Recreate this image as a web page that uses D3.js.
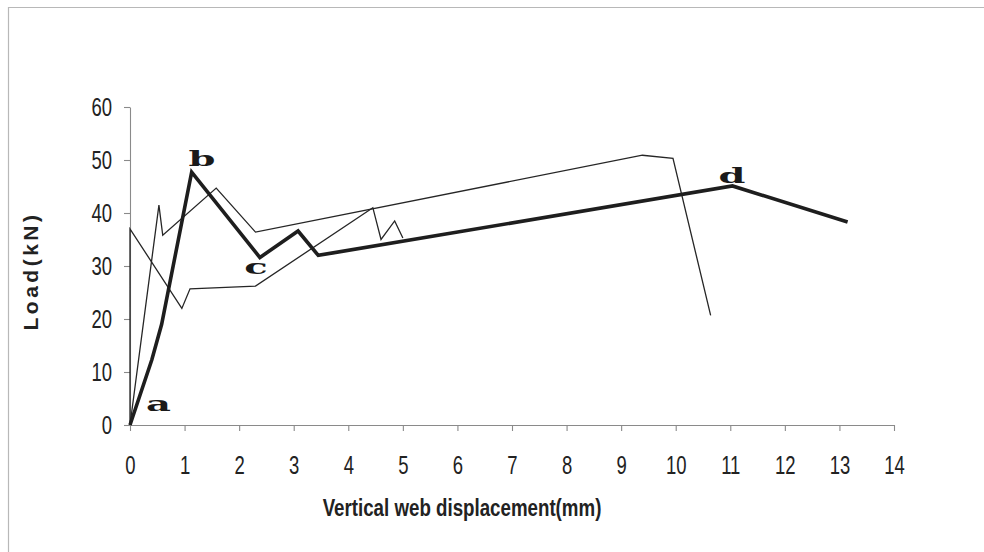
<!DOCTYPE html>
<html>
<head>
<meta charset="utf-8">
<script src="https://cdn.jsdelivr.net/npm/d3@7/dist/d3.min.js"></script>
<style>
  html, body { margin: 0; padding: 0; background: #fff; }
  svg { display: block; }
</style>
</head>
<body>
<svg id="chart" width="984" height="552"></svg>
<script>
// Load vs. vertical web displacement, three test specimens
const specimenThinA = [
  [0, 0], [0, 37], [0.95, 22], [1.1, 25.7], [2.3, 26.2],
  [4.45, 41], [4.6, 35], [4.85, 38.5], [5.0, 35.3]
];
const specimenThinB = [
  [0, 0], [0.53, 41.5], [0.6, 35.8], [1.58, 44.7], [2.3, 36.4],
  [9.39, 50.9], [9.95, 50.3], [10.64, 20.7]
];
const specimenMain = [
  [0, 0], [0.4, 12.3], [0.58, 19], [1.13, 47.7], [2.38, 31.6],
  [3.08, 36.6], [3.45, 32], [11.04, 45.1], [13.15, 38.3]
];
// Stage markers on the main curve: label, x (mm), y (kN)
const stageLabels = [
  ["a", 0.52, 2.6], ["b", 1.32, 48.8], ["c", 2.31, 28.4], ["d", 11.03, 45.7]
];
const xTicks = d3.range(0, 15, 1);
const yTicks = d3.range(0, 70, 10);

const svg = d3.select("#chart");

// outer chart frame (top and left edges)
svg.append("path")
  .attr("d", "M8.5,552 V7.5 H984")
  .attr("fill", "none")
  .attr("stroke", "#b8b8b8")
  .attr("stroke-width", 1.2);

const x = d3.scaleLinear().domain([0, 14]).range([130, 894]);
const y = d3.scaleLinear().domain([0, 60]).range([425, 107]);

const sansFont = "'Liberation Sans', Arial, sans-serif";
const narrow = 0.74; // horizontal squeeze for the condensed look

const xAxis = svg.append("g")
  .attr("transform", `translate(0,${y(0)})`)
  .call(d3.axisBottom(x).tickValues(xTicks).tickSize(6).tickSizeOuter(0).tickPadding(25));
const yAxis = svg.append("g")
  .attr("transform", `translate(${x(0)},0)`)
  .call(d3.axisLeft(y).tickValues(yTicks).tickSize(6).tickSizeOuter(0).tickPadding(13));

[xAxis, yAxis].forEach(g => {
  g.select(".domain").attr("stroke", "#8a8a8a").attr("stroke-width", 1.1);
  g.selectAll(".tick line").attr("stroke", "#8a8a8a").attr("stroke-width", 1.1);
  g.selectAll(".tick text")
    .attr("fill", "#222")
    .style("font-family", sansFont)
    .style("font-size", "25px");
});
xAxis.selectAll(".tick text").attr("transform", `scale(${narrow},1)`);
yAxis.selectAll(".tick text")
  .attr("x", -18 / narrow)
  .attr("transform", `scale(${narrow},1)`);

const line = d3.line().x(d => x(d[0])).y(d => y(d[1]));

svg.append("path").datum(specimenThinA)
  .attr("d", line).attr("fill", "none")
  .attr("stroke", "#262626").attr("stroke-width", 1.3).attr("stroke-linejoin", "miter");
svg.append("path").datum(specimenThinB)
  .attr("d", line).attr("fill", "none")
  .attr("stroke", "#262626").attr("stroke-width", 1.3).attr("stroke-linejoin", "miter");
svg.append("path").datum(specimenMain)
  .attr("d", line).attr("fill", "none")
  .attr("stroke", "#1e1e1e").attr("stroke-width", 3.6).attr("stroke-linejoin", "miter");

// stage letters
svg.selectAll("text.stage").data(stageLabels).enter().append("text")
  .attr("class", "stage")
  .attr("transform", d => `translate(${x(d[1])},${y(d[2])}) scale(1.75,0.9)`)
  .attr("text-anchor", "middle")
  .style("font-family", "'DejaVu Serif', serif")
  .style("font-weight", "bold")
  .style("font-size", "22px")
  .attr("fill", "#1a1a1a")
  .text(d => d[0]);

// axis titles
svg.append("text")
  .attr("transform", `translate(462,516) scale(0.78,1)`)
  .attr("text-anchor", "middle")
  .style("font-family", sansFont)
  .style("font-weight", "bold")
  .style("font-size", "24px")
  .attr("fill", "#222")
  .text("Vertical web displacement(mm)");

svg.append("text")
  .attr("transform", "translate(38,271) rotate(-90)")
  .attr("text-anchor", "middle")
  .style("font-family", sansFont)
  .style("font-weight", "bold")
  .style("font-size", "21px")
  .style("letter-spacing", "3.5px")
  .attr("fill", "#222")
  .text("Load(kN)");
</script>
</body>
</html>
